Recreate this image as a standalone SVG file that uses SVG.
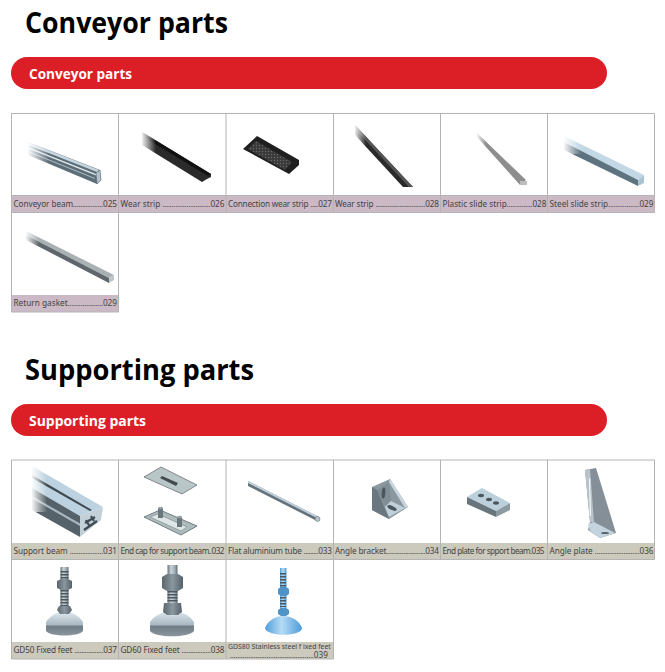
<svg xmlns="http://www.w3.org/2000/svg" width="665" height="672" viewBox="0 0 665 672">
<style>
.h{font-family:"Open Sans","Liberation Sans",sans-serif;font-weight:700;font-size:28px;fill:#000}
.b{font-family:"Open Sans","Liberation Sans",sans-serif;font-weight:700;font-size:13.5px;fill:#fff}
.c{font-family:"Noto Sans","Liberation Sans",sans-serif;font-size:8.2px;fill:#444}
.d{font-size:6.8px}
.s{font-size:6.9px}
.g{stroke:#b4b4b4;stroke-width:1;fill:none}
.bar{fill:#dc1f27}
.cap1{fill:#cbb9c5}.cap2{fill:#ccc9bd}
.fade{fill:url(#fade)}
.th{stroke:#4d585f;stroke-dasharray:1.4 1.6;fill:none}
</style>
<defs>
<linearGradient id="fade" x1="0" y1="0" x2="1" y2="0"><stop offset="0" stop-color="#fff"/><stop offset="1" stop-color="#fff" stop-opacity="0"/></linearGradient>
<linearGradient id="metal" x1="0" y1="0" x2="1" y2="0"><stop offset="0" stop-color="#66727a"/><stop offset=".35" stop-color="#c8d3da"/><stop offset=".7" stop-color="#a5b1b9"/><stop offset="1" stop-color="#5f6a72"/></linearGradient>
<linearGradient id="nut" x1="0" y1="0" x2="1" y2="0"><stop offset="0" stop-color="#5a666e"/><stop offset=".5" stop-color="#8b979f"/><stop offset="1" stop-color="#55616a"/></linearGradient>
<linearGradient id="dome" x1="0" y1="0" x2="0" y2="1"><stop offset="0" stop-color="#dfe8ee"/><stop offset=".55" stop-color="#a9b8c2"/><stop offset=".6" stop-color="#6f7c85"/><stop offset="1" stop-color="#8a969e"/></linearGradient>
<linearGradient id="blue" x1="0" y1="0" x2="1" y2="0"><stop offset="0" stop-color="#4f9fdc"/><stop offset=".45" stop-color="#b5dcf5"/><stop offset="1" stop-color="#4c9bd8"/></linearGradient>
<pattern id="perf" width="3" height="3" patternUnits="userSpaceOnUse"><rect width="3" height="3" fill="#3a3a3a"/><circle cx="1.500" cy="1.500" r=".7" fill="#6a6a6a"/></pattern>
</defs>

<text class="h" x="25" y="33" textLength="203" lengthAdjust="spacingAndGlyphs">Conveyor parts</text>
<rect class="bar" x="11" y="57" width="596" height="32" rx="16"/>
<text class="b" x="29" y="79" textLength="103" lengthAdjust="spacingAndGlyphs">Conveyor parts</text>
<text class="h" x="25" y="380" textLength="229" lengthAdjust="spacingAndGlyphs">Supporting parts</text>
<rect class="bar" x="11" y="404" width="596" height="32" rx="16"/>
<text class="b" x="29" y="426" textLength="117" lengthAdjust="spacingAndGlyphs">Supporting parts</text>

<g id="captions">
<rect class="cap1" x="11.500" y="196" width="643" height="17"/>
<rect class="cap1" x="11.500" y="295" width="107" height="17"/>
<rect class="cap2" x="11.500" y="543" width="643" height="17"/>
<rect class="cap2" x="11.500" y="642" width="322" height="17"/>
</g>

<g id="parts-conveyor">
<g id="conveyor-beam">
<polygon points="28,142 100,170 101,180 97,184 28,155" fill="#5d6d78"/>
<polygon points="28,142 99,170 97,172 28,145" fill="#c5d6e0"/>
<polygon points="28,147 96,174 96,175.500 28,148.500" fill="#dfe8ee"/>
<polygon points="28,151 95,178 95,179 28,152" fill="#aebdc7"/>
<polygon points="96,173 100,170 101,180 97,184" fill="#b3c2cb" stroke="#55626b" stroke-width=".5"/>
<rect class="fade" x="27" y="140" width="22" height="26"/>
</g>
<g id="wear-strip-026">
<polygon points="142,132 211,174 211,177 207,179 202,182 142,145" fill="#2a2a2a"/>
<polygon points="142,132 211,174 208,176 142,136" fill="#111"/>
<rect class="fade" x="141" y="130" width="15" height="24"/>
</g>
<g id="connection-wear-strip">
<polygon points="257,136 299,160 299,165 289,174 243,149" fill="#1f1f1f"/>
<polygon points="256,141 292,162 285,170 248,149" fill="url(#perf)"/>
</g>
<g id="wear-strip-028">
<polygon points="355,125 413,187 403,187 355,135" fill="#2a2a2a"/>
<polygon points="355,125 413,187 409,187 355,129" fill="#555"/>
<rect class="fade" x="354" y="123" width="12" height="24"/>
</g>
<g id="plastic-slide-strip">
<polygon points="477,133 526,180 520,185 477,137" fill="#8e8e8e"/>
<polygon points="520,181 527,181 527,185 520,185" fill="#bdbdbd"/>
<rect class="fade" x="476" y="131" width="10" height="16"/>
</g>
<g id="steel-slide-strip">
<polygon points="564,136 644,175 638,180 564,142" fill="#c3d8e5"/>
<polygon points="564,142 638,180 638,186 564,150" fill="#5d7380"/>
<polygon points="638,180 644,175 644,183 638,186" fill="#a9c4d3"/>
<rect class="fade" x="563" y="134" width="18" height="20"/>
</g>
<g id="return-gasket">
<polygon points="26,231 114,275 109,278 26,235" fill="#a9b1b5"/>
<polygon points="26,235 109,278 109,283 26,240" fill="#5f676c"/>
<polygon points="109,278 114,275 114,280 109,283" fill="#c0c6c9"/>
<rect class="fade" x="25" y="229" width="14" height="16"/>
</g>
</g>

<g id="parts-supporting">
<g id="support-beam">
<polygon points="32,466 103,507 80,516 32,488" fill="#bcd2e0"/>
<polygon points="32,475 92,510 90,511 32,478" fill="#3f4a51"/>
<polygon points="32,488 80,516 80,537 32,510" fill="#55626a"/>
<polygon points="32,496 80,523.500 80,526 32,498.500" fill="#a9b8c2"/>
<polygon points="80,516 103,507 101,520 80,537" fill="#c3d0d8"/>
<path d="M85,523l10,-6M84,530l13,-9M91,516l3,5M86,520l4,7" stroke="#3f4a51" stroke-width="2.200" fill="none"/>
<rect class="fade" x="31" y="464" width="16" height="48"/>
</g>
<g id="end-cap">
<polygon points="161,467 197,485 182,494 144,477" fill="#b9c6c7" stroke="#59646a" stroke-width=".7"/>
<polygon points="162,476 178,483 176,486 160,478" fill="#444b50"/>
<polygon points="160,510 197,526 181,535 144,517" fill="#aebbbc" stroke="#59646a" stroke-width=".8"/>
<polygon points="158,514 187,527 181,531 150,517" fill="#dfe6e6" stroke="#6b767b" stroke-width=".5"/>
<rect x="158" y="508" width="5" height="10" fill="#6b777d"/>
<ellipse cx="160.500" cy="508" rx="2.500" ry="1.200" fill="#98a4aa"/>
<rect x="177" y="517" width="5" height="10" fill="#6b777d"/>
<ellipse cx="179.500" cy="517" rx="2.500" ry="1.200" fill="#98a4aa"/>
</g>
<g id="flat-tube">
<polygon points="248,481 319,517 317,521 248,486" fill="#66737b"/>
<polygon points="248,481 319,517 318,518.500 248,483" fill="#c3d4de"/>
<circle cx="317.500" cy="519" r="2.500" fill="#b6c4cc" stroke="#5b666d" stroke-width=".5"/>
</g>
<g id="angle-bracket">
<polygon points="372,487 390,479 408,507 389,519 372,510" fill="#8b98a0"/>
<polygon points="372,487 377,490 388,516 389,519 372,510" fill="#6a777f"/>
<polygon points="377,490 389,482 391,500 385,506" fill="#808d95"/>
<polygon points="390,479 408,507 405,508 389,482" fill="#c8d5dd"/>
<polygon points="385,507 391,501 405,508 389,517" fill="#bfd0db"/>
<ellipse cx="383.500" cy="493" rx="1.800" ry="5.500" fill="#4a555c" transform="rotate(5 383.500 493)"/>
<ellipse cx="392" cy="508" rx="5" ry="2" fill="#4a555c" transform="rotate(25 392 508)"/>
</g>
<g id="end-plate">
<polygon points="482,488 510,503 496,511 467,497" fill="#bcd0dc"/>
<polygon points="467,497 496,511 496,517 467,504" fill="#68757d"/>
<polygon points="496,511 510,503 510,510 496,517" fill="#8d9aa2"/>
<ellipse cx="481" cy="495.500" rx="3" ry="1.700" fill="#4a555c"/>
<ellipse cx="489" cy="499.500" rx="3" ry="1.700" fill="#4a555c"/>
<ellipse cx="496" cy="503" rx="3" ry="1.700" fill="#4a555c"/>
</g>
<g id="angle-plate">
<polygon points="585,470 596,468 616,533 600,538 588,530 590,522" fill="#848f97"/>
<polygon points="585,470 590,469 594,522 590,522" fill="#b7c4cc"/>
<rect x="589.500" y="478" width="1" height="38" fill="#fff" transform="rotate(-1 590 498)"/>
<polygon points="588,524 594,522 615,533 600,538 590,531" fill="#c4d4de"/>
<ellipse cx="605" cy="533" rx="4" ry="1" fill="#55616a"/>
</g>
<g id="gd50">
<rect x="60.500" y="567" width="8" height="46" fill="url(#metal)"/>
<path class="th" d="M64.500,571V580M64.500,590V607" stroke-width="8"/>
<polygon points="57,581 61,579 68,579 72,581 72,588 68,590 61,590 57,588" fill="url(#nut)"/>
<path d="M46,622 C50,616 56,612 64.500,612 C73,612 79,616 83,622 L83,631 C79,637 50,637 46,631 Z" fill="url(#dome)"/>
<polygon points="59,606 70,606 72,610 69,614 60,614 57,610" fill="url(#nut)"/>
</g>
<g id="gd60">
<rect x="167.500" y="565" width="10" height="50" fill="url(#metal)"/>
<path class="th" d="M172.500,591V603" stroke-width="10"/>
<polygon points="162,577 167,574 178,574 183,577 183,588 178,591 167,591 162,588" fill="url(#nut)"/>
<path d="M150,622 C155,615 163,611 172,611 C182,611 189,615 194,622 L194,631 C189,638 155,638 150,631 Z" fill="url(#dome)"/>
<polygon points="164,603 181,603 182,612 178,615 167,615 163,612" fill="url(#nut)"/>
</g>
<g id="gds80">
<rect x="280" y="568" width="6.500" height="46" fill="url(#blue)"/>
<path class="th" d="M283,573V587M283,597V607" stroke-width="6"/>
<polygon points="278,589 281,587 286,587 289,589 289,594 286,596 281,596 278,594" fill="#4e94c8"/>
<path d="M265,628 C268,620 276,616 283,616 C291,616 299,620 302,628 C302,637 266,637 265,628 Z" fill="url(#blue)"/>
<polygon points="278,610 281,608 286,608 289,610 289,614 286,616 281,616 278,614" fill="#4e94c8"/>
</g>
</g>

<g id="grid">
<path class="g" d="M11.500,113.500H654.500M11.500,195.500H654.500M11.500,212.500H654.500M11.500,312H118.500M11.500,113.500V312M118.500,113.500V312M226,113.500V212.500M333.500,113.500V212.500M440.500,113.500V212.500M547.500,113.500V212.500M654.500,113.500V212.500"/>
<path class="g" d="M11.500,460H654.500M11.500,559.500H654.500M11.500,659H333.500M11.500,460V659M118.500,460V659M226,460V659M333.500,460V659M440.500,460V559.500M547.500,460V559.500M654.500,460V559.500"/>
</g>

<g id="labels">
<text class="c" x="13.500" y="207" textLength="103.500">Conveyor beam<tspan class="d">.................</tspan>025</text>
<text class="c" x="120.500" y="207" textLength="104">Wear strip <tspan class="d">..........................</tspan>026</text>
<text class="c" x="228" y="207" textLength="104">Connection wear strip <tspan class="d">.....</tspan>027</text>
<text class="c" x="335" y="207" textLength="104">Wear strip <tspan class="d">.............................</tspan>028</text>
<text class="c" x="442.500" y="207" textLength="104">Plastic slide strip<tspan class="d">..............</tspan>028</text>
<text class="c" x="549.500" y="207" textLength="104">Steel slide strip<tspan class="d">.................</tspan>029</text>
<text class="c" x="13.500" y="306" textLength="103.500">Return gasket<tspan class="d">...................</tspan>029</text>
<text class="c" x="13.500" y="554" textLength="103.500">Support beam <tspan class="d">...................</tspan>031</text>
<text class="c" x="120.500" y="554" textLength="104">End cap for support beam<tspan class="d">..</tspan>032</text>
<text class="c" x="228" y="554" textLength="104">Flat aluminium tube <tspan class="d">.........</tspan>033</text>
<text class="c" x="335" y="554" textLength="104">Angle bracket<tspan class="d">.......................</tspan>034</text>
<text class="c" x="442.500" y="554" textLength="102">End plate for spport beam<tspan class="d">.</tspan>035</text>
<text class="c" x="549.500" y="554" textLength="104">Angle plate <tspan class="d">.........................</tspan>036</text>
<text class="c" x="13.500" y="653" textLength="103.500">GD50 Fixed feet <tspan class="d">.................</tspan>037</text>
<text class="c" x="120.500" y="653" textLength="104">GD60 Fixed feet <tspan class="d">.................</tspan>038</text>
<text class="c" x="228" y="649"><tspan class="s">GDS80 Stainless steel f ixed feet</tspan><tspan x="230" y="657.500" class="d">..............................................</tspan><tspan y="657.500">039</tspan></text>
</g>
</svg>
